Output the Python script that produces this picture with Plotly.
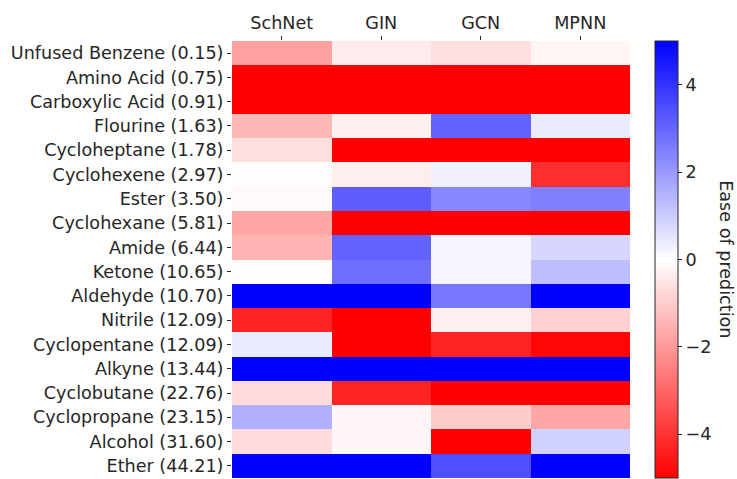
import plotly.graph_objects as go

models = ["SchNet", "GIN", "GCN", "MPNN"]
groups = [
    "Unfused Benzene (0.15)", "Amino Acid (0.75)", "Carboxylic Acid (0.91)",
    "Flourine (1.63)", "Cycloheptane (1.78)", "Cyclohexene (2.97)",
    "Ester (3.50)", "Cyclohexane (5.81)", "Amide (6.44)", "Ketone (10.65)",
    "Aldehyde (10.70)", "Nitrile (12.09)", "Cyclopentane (12.09)",
    "Alkyne (13.44)", "Cyclobutane (22.76)", "Cyclopropane (23.15)",
    "Alcohol (31.60)", "Ether (44.21)",
]

# ease-of-prediction score per functional group, one list per model
schnet = [-1.85, -5, -5, -1.4, -0.65, 0.02, -0.1, -1.75, -1.5, -0.05,
          5, -4.3, 0.4, 5, -0.7, 1.55, -0.7, 5]
gin = [-0.4, -5, -5, -0.3, -5, -0.33, 3.15, -5, 3.05, 2.85,
       5, -5, -5, 5, -4.3, -0.15, -0.15, 5]
gcn = [-0.6, -5, -5, 3.05, -5, 0.3, 2.35, -5, 0.2, 0.2,
       2.65, -0.3, -4.3, 5, -5, -1.0, -5, 3.45]
mpnn = [-0.2, -5, -5, 0.4, -5, -4.1, 2.5, -5, 0.8, 1.3,
        5, -0.9, -4.9, 5, -5, -1.75, 0.9, 5]

z = [[a, b, c, d] for a, b, c, d in zip(schnet, gin, gcn, mpnn)]

font = dict(family="DejaVu Sans", size=17.6, color="#262626")

fig = go.Figure(go.Heatmap(
    z=z, x=models, y=groups,
    zmin=-5, zmax=5,
    colorscale=[[0, "rgb(255,0,0)"], [0.5, "rgb(255,255,255)"], [1, "rgb(0,0,255)"]],
    colorbar=dict(
        x=1.063, xanchor="left", xpad=0, ypad=0,
        y=0.5, yanchor="middle", len=1, lenmode="fraction",
        thickness=23, outlinewidth=1, outlinecolor="#262626",
        tickvals=[-4, -2, 0, 2, 4], ticktext=["\u22124", "\u22122", "0", "2", "4"],
        ticks="outside", ticklen=4, tickcolor="#262626",
        tickfont=font,
    ),
))

fig.update_xaxes(side="top", ticks="outside", ticklen=4, tickcolor="#262626",
                 tickfont=font, showgrid=False, zeroline=False)
fig.update_yaxes(autorange="reversed", ticks="outside", ticklen=4, tickcolor="#262626",
                 tickfont=font, showgrid=False, zeroline=False)

fig.add_annotation(text="Ease of prediction", xref="paper", yref="paper",
                   x=1.242, y=0.5, xanchor="center", yanchor="middle",
                   textangle=90, showarrow=False, font=font)

fig.update_layout(
    width=737, height=479,
    margin=dict(l=232, r=107, t=41, b=1),
    paper_bgcolor="white", plot_bgcolor="white",
    font=font,
)

fig.write_html("out.html")
